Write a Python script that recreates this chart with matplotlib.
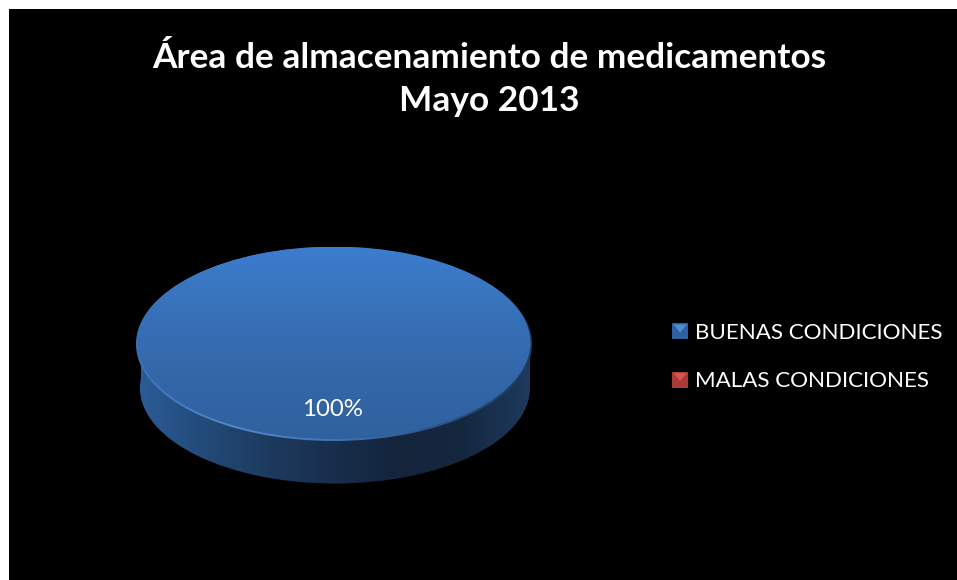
import matplotlib
matplotlib.use('Agg')
import matplotlib.pyplot as plt
from matplotlib.colors import LinearSegmentedColormap
from matplotlib.legend_handler import HandlerBase
from matplotlib.patches import Patch, Polygon, Rectangle
import numpy as np

title = 'Área de almacenamiento de medicamentos\nMayo 2013'
labels = ['BUENAS CONDICIONES', 'MALAS CONDICIONES']
values = [100, 0]

W, H = 957, 580
# panel negro: empieza en x=9, y=9
PX, PY = 9, 9
# centro y radios de la tapa, en pixeles
CX, CY, RX, RY = 334, 344, 198, 97
DEPTH = 44 / RY

top_cmap = LinearSegmentedColormap.from_list('top', ['#3C7DCF', '#3871B9', '#3367A8', '#30619F'])
side_cmap = LinearSegmentedColormap.from_list(
    'side', ['#2B5B96', '#234A78', '#1C3A5E', '#182E4C', '#13243B', '#152840', '#1E3A5E'])
rim_cmap = LinearSegmentedColormap.from_list('rim', ['#3A72B8', '#5288CC', '#4175B4', '#2C5688', '#1D3B60'])


class BevelHandler(HandlerBase):
    # cuadrito del legend con el triangulo claro arriba
    def create_artists(self, legend, orig, xd, yd, w, h, fontsize, trans):
        s = 11.5
        x0, y0 = (w - s) / 2 - xd, (h - s) / 2 - yd
        box = Rectangle((x0, y0), s, s, facecolor=orig.get_facecolor(), edgecolor='none', transform=trans)
        tri = Polygon([(x0 + 1, y0 + s - 1), (x0 + s - 1, y0 + s - 1), (x0 + s / 2, y0 + s / 2 - 1)],
                      facecolor=orig.get_edgecolor(), edgecolor='none', transform=trans)
        return [box, tri]


plt.rcParams['font.family'] = ['Lato', 'DejaVu Sans']
fig = plt.figure(figsize=(W / 100, H / 100), dpi=100, facecolor='white')
ax = fig.add_axes([PX / W, 0, (W - PX) / W, (H - PY) / H], facecolor='black')

grad_h = np.linspace(0, 1, 256).reshape(1, -1)
grad_v = np.linspace(0, 1, 256).reshape(-1, 1)


def shade(wedge, cmap, grad, z, extent=(-1.1, 1.1, -1.6, 1.1)):
    img = ax.imshow(grad, cmap=cmap, extent=extent, aspect='auto', zorder=z, origin='upper')
    img.set_clip_path(wedge)


# lateral: elipse de abajo + rectangulo hasta la tapa
low, _ = ax.pie(values, center=(0.005, -DEPTH), radius=0.985)
shade(low[0], side_cmap, grad_h, 1, extent=(-0.98, 0.99, -1.6, 1.1))
mid = Rectangle((-0.977, -DEPTH + 0.02), 1.964, DEPTH, facecolor='none', edgecolor='none')
ax.add_patch(mid)
shade(mid, side_cmap, grad_h, 1, extent=(-0.98, 0.99, -1.6, 1.1))

# borde biselado de la tapa
rim, _ = ax.pie(values, radius=1.0)
shade(rim[0], rim_cmap, grad_h, 2, extent=(-1, 1, -1, 1))

# tapa
tapa, _, pct = ax.pie(values, center=(-0.01, 0.012), radius=0.992, startangle=90, pctdistance=0.69,
                      autopct=lambda p: '%d%%' % round(p) if p > 0 else '',
                      textprops={'color': 'white', 'fontsize': 17.3, 'zorder': 6})
tapa[0].set_center((0, 0.012))
shade(tapa[0], top_cmap, grad_v, 3, extent=(-1, 1, -1, 1))

for w in low + rim + tapa:
    w.set_facecolor('none')
    w.set_edgecolor('none')

ax.set_aspect('auto')
ax.set_xlim((PX - CX) / RX, (W - CX) / RX)
ax.set_ylim((CY - H) / RY, (CY - PY) / RY)
ax.set_frame_on(True)
for sp in ax.spines.values():
    sp.set_visible(False)
ax.set_xticks([])
ax.set_yticks([])

fig.text(489 / W, 1 - 79.5 / H, title, color='white', fontsize=25.4, fontweight='bold',
         ha='center', va='center', linespacing=1.46)

handles = [Patch(facecolor='#2F5F9E', edgecolor='#4E8DD6'),
           Patch(facecolor='#A83A38', edgecolor='#D9534F')]
leg = ax.legend(handles, labels, handler_map={Patch: BevelHandler()}, frameon=False,
                loc='upper left', bbox_to_anchor=(672 / W, 1 - 323 / H), bbox_transform=fig.transFigure,
                borderpad=0, borderaxespad=0, handlelength=0.73, handletextpad=0.3, labelspacing=1.27,
                prop={'size': 16.15})
for t in leg.get_texts():
    t.set_color('white')

fig.savefig('out.png', dpi=100, facecolor='white')
